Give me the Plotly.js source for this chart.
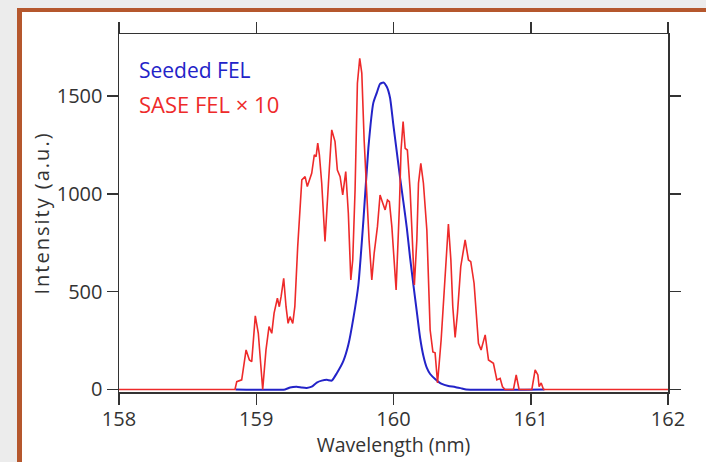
<!DOCTYPE html>
<html>
<head>
<meta charset="utf-8">
<script src="https://cdn.plot.ly/plotly-3.0.1.min.js"></script>
<style>
  html, body { margin: 0; padding: 0; width: 706px; height: 462px; overflow: hidden; background: #ececec; }
  #frame { position: absolute; left: 17px; top: 8px; width: 700px; height: 470px; background: #ffffff;
           border-top: 4px solid #b5572d; border-left: 5px solid #b5572d; }
  #chart { position: absolute; left: 0; top: 0; width: 706px; height: 462px; }
  #chart .ytitle { letter-spacing: 2px; }
</style>
</head>
<body>
<div id="frame"></div>
<div id="chart"></div>
<script>
// SASE FEL x 10 (red)
const saseX = [
  158.000, 158.845, 158.858, 158.894, 158.926, 158.950, 158.967, 158.993, 159.015, 159.047,
  159.071, 159.093, 159.113, 159.130, 159.154, 159.168, 159.181, 159.200, 159.217, 159.232,
  159.246, 159.266, 159.281, 159.302, 159.332, 159.356, 159.372, 159.404, 159.423, 159.436,
  159.448, 159.460, 159.477, 159.501, 159.526, 159.550, 159.574, 159.591, 159.611, 159.630,
  159.652, 159.671, 159.689, 159.703, 159.720, 159.737, 159.754, 159.769, 159.786, 159.805,
  159.822, 159.842, 159.859, 159.883, 159.902, 159.922, 159.939, 159.956, 159.970, 159.988,
  160.019, 160.043, 160.055, 160.070, 160.085, 160.101, 160.121, 160.152, 160.170, 160.182,
  160.199, 160.218, 160.243, 160.267, 160.287, 160.303, 160.321, 160.347, 160.376, 160.400,
  160.418, 160.432, 160.449, 160.466, 160.490, 160.522, 160.546, 160.563, 160.587, 160.619,
  160.638, 160.668, 160.692, 160.728, 160.753, 160.777, 160.794, 160.813, 160.874, 160.894,
  160.915, 161.008, 161.032, 161.052, 161.061, 161.076, 161.093, 162.000
];
const saseY = [
  0, 0, 40, 49, 202, 151, 142, 376, 287, 0,
  202, 321, 287, 390, 466, 423, 474, 568, 423, 338,
  372, 338, 423, 730, 1071, 1088, 1037, 1105, 1199, 1190,
  1259, 1199, 1054, 756, 1054, 1327, 1267, 1122, 1088, 994,
  1114, 901, 560, 662, 1020, 1565, 1693, 1617, 1276, 1003,
  764, 560, 696, 832, 994, 952, 918, 969, 960, 832,
  509, 935, 1224, 1369, 1233, 1224, 1020, 534, 764, 1054,
  1156, 1054, 815, 304, 192, 187, 33, 253, 594, 846,
  662, 423, 266, 390, 628, 764, 662, 653, 543, 236,
  202, 279, 151, 134, 49, 57, 14, 0, 0, 74,
  0, 0, 100, 74, 14, 33, 0, 0
];
// Seeded FEL (blue)
const seededX = [
  158.850, 159.210, 159.246, 159.295, 159.332, 159.368, 159.404, 159.441, 159.477, 159.514,
  159.550, 159.587, 159.635, 159.671, 159.708, 159.744, 159.781, 159.817, 159.853, 159.878,
  159.902, 159.926, 159.951, 159.975, 159.999, 160.024, 160.048, 160.072, 160.097, 160.121,
  160.145, 160.170, 160.194, 160.218, 160.243, 160.267, 160.303, 160.352, 160.400, 160.449,
  160.498, 160.529, 161.100
];
const seededY = [
  0, 0, 10, 14, 10, 8, 14, 35, 45, 49,
  45, 83, 146, 228, 366, 534, 867, 1235, 1465, 1516,
  1562, 1569, 1547, 1490, 1352, 1214, 1081, 959, 826, 672,
  534, 396, 263, 171, 110, 79, 54, 28, 18, 13,
  5, 0, 0
];
const xTicks = [158, 159, 160, 161, 162];
const yTicks = [0, 500, 1000, 1500];
const seriesNames = ['Seeded FEL', 'SASE FEL \u00d7 10'];

const blue = '#2323c8';
const red = '#ee2a2a';
const axisColor = '#333333';
const font = 'Open Sans, Noto Sans, sans-serif';

const traces = [
  { x: seededX, y: seededY, type: 'scatter', mode: 'lines', name: seriesNames[0],
    line: { color: blue, width: 2, shape: 'spline', smoothing: 0.5 } },
  { x: saseX, y: saseY, type: 'scatter', mode: 'lines', name: seriesNames[1],
    line: { color: red, width: 1.6 } }
];

const axisCommon = {
  showline: true, linecolor: axisColor, linewidth: 1.5, mirror: 'ticks',
  ticks: 'outside', ticklen: 11, tickwidth: 1.5, tickcolor: axisColor,
  showgrid: false, zeroline: false,
  tickfont: { family: font, size: 20, color: '#333333' }
};

const layout = {
  width: 706, height: 462,
  margin: { l: 119, r: 38, t: 34, b: 70 },
  paper_bgcolor: 'rgba(0,0,0,0)', plot_bgcolor: 'rgba(0,0,0,0)',
  showlegend: false,
  xaxis: Object.assign({}, axisCommon, {
    range: [158, 162], tickvals: xTicks, ticktext: xTicks.map(String),
    ticklabelstandoff: -3,
    title: { text: 'Wavelength (nm)', font: { family: font, size: 19.5, color: '#333333' }, standoff: 2 }
  }),
  yaxis: Object.assign({}, axisCommon, {
    range: [-13, 1817], tickvals: yTicks, ticktext: yTicks.map(String),
    title: { text: 'Intensity (a.u.)', font: { family: font, size: 20, color: '#333333' }, standoff: 2 }
  }),
  annotations: [
    { xref: 'paper', yref: 'paper', x: 0.033, y: 0.899, xanchor: 'left', yanchor: 'middle',
      text: seriesNames[0], showarrow: false, font: { family: font, size: 21, color: blue } },
    { xref: 'paper', yref: 'paper', x: 0.033, y: 0.805, xanchor: 'left', yanchor: 'middle',
      text: seriesNames[1], showarrow: false, font: { family: font, size: 22, color: red } }
  ]
};

Plotly.newPlot('chart', traces, layout, { displayModeBar: false, staticPlot: true });
</script>
</body>
</html>
